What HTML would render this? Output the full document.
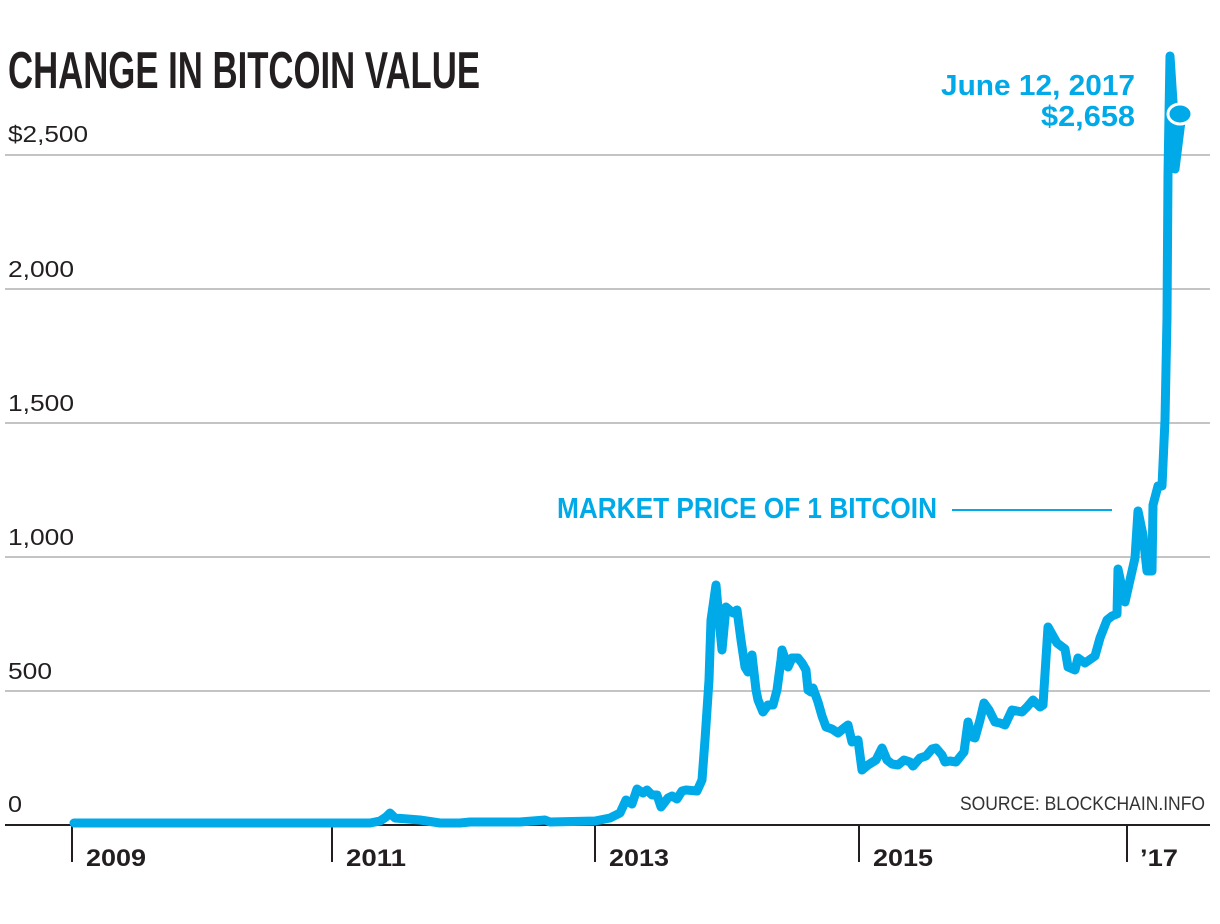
<!DOCTYPE html>
<html><head><meta charset="utf-8"><style>
html,body{margin:0;padding:0;background:#fff;}
svg{display:block;}
text{font-family:"Liberation Sans Narrow","Liberation Sans",sans-serif;}
</style></head><body>
<svg width="1220" height="924" viewBox="0 0 1220 924" xmlns="http://www.w3.org/2000/svg">
<rect width="1220" height="924" fill="#fff"/>
<text x="8" y="88" font-size="52" font-weight="bold" fill="#231f20" textLength="472" lengthAdjust="spacingAndGlyphs">CHANGE IN BITCOIN VALUE</text>
<g stroke="#c4c4c4" stroke-width="2">
<line x1="5" y1="155" x2="1210" y2="155"/>
<line x1="5" y1="289" x2="1210" y2="289"/>
<line x1="5" y1="423" x2="1210" y2="423"/>
<line x1="5" y1="557" x2="1210" y2="557"/>
<line x1="5" y1="691" x2="1210" y2="691"/>
</g>
<g font-size="23" fill="#231f20">
<text x="8" y="142" textLength="80" lengthAdjust="spacingAndGlyphs">$2,500</text>
<text x="8" y="277" textLength="66" lengthAdjust="spacingAndGlyphs">2,000</text>
<text x="8" y="411" textLength="66" lengthAdjust="spacingAndGlyphs">1,500</text>
<text x="8" y="545" textLength="66" lengthAdjust="spacingAndGlyphs">1,000</text>
<text x="8" y="679" textLength="44" lengthAdjust="spacingAndGlyphs">500</text>
<text x="8" y="812" textLength="14" lengthAdjust="spacingAndGlyphs">0</text>
</g>
<text x="960" y="810" font-size="19" fill="#333" textLength="245" lengthAdjust="spacingAndGlyphs">SOURCE: BLOCKCHAIN.INFO</text>
<line x1="5" y1="825" x2="1210" y2="825" stroke="#231f20" stroke-width="2"/>
<g stroke="#231f20" stroke-width="2">
<line x1="72" y1="825" x2="72" y2="862"/>
<line x1="332" y1="825" x2="332" y2="862"/>
<line x1="595" y1="825" x2="595" y2="862"/>
<line x1="859" y1="825" x2="859" y2="862"/>
<line x1="1127" y1="825" x2="1127" y2="862"/>
</g>
<g font-size="24" font-weight="bold" fill="#231f20">
<text x="86" y="866" textLength="60" lengthAdjust="spacingAndGlyphs">2009</text>
<text x="346" y="866" textLength="60" lengthAdjust="spacingAndGlyphs">2011</text>
<text x="609" y="866" textLength="60" lengthAdjust="spacingAndGlyphs">2013</text>
<text x="873" y="866" textLength="60" lengthAdjust="spacingAndGlyphs">2015</text>
<text x="1140" y="866" textLength="38" lengthAdjust="spacingAndGlyphs">’17</text>
</g>
<polyline fill="none" stroke="#00a9e8" stroke-width="9" stroke-linejoin="round" stroke-linecap="round" points="
74,823 370,823 380,821 386,817 390,813 395,818 420,820 440,823 460,823 470,822 520,822 545,820 550,822 595,821 610,818 620,813 626,800 632,804 637,789 643,793 647,790 652,795 657,795 661,807 668,798 672,796 677,799 682,791 686,790 697,791 702,780 705,740 709,680 711,620 716,585 719,620 722,650 726,607 733,613 737,610 741,640 745,667 748,672 752,655 756,690 758,700 763,712 768,705 773,705 777,690 781,660 782,650 788,667 792,658 798,658 802,663 806,670 808,690 811,692 813,688 818,702 822,716 826,727 832,729 838,733 844,728 848,725 852,742 858,740 862,770 868,765 876,760 882,748 887,760 892,764 898,765 904,760 910,762 913,766 920,758 926,756 932,749 936,748 942,755 945,762 950,761 956,762 960,757 964,752 968,722 972,737 975,738 980,720 984,703 989,710 995,722 1000,723 1005,725 1012,710 1022,712 1027,707 1033,700 1040,707 1043,705 1048,627 1057,643 1065,649 1068,667 1075,670 1078,658 1085,663 1095,656 1100,638 1107,620 1112,616 1117,614 1118,569 1125,602 1130,580 1135,558 1138,511 1143,535 1147,571 1152,571 1153,505 1158,486 1162,486 1165,420 1167,317 1168,174 1170,56 1173,102 1175,169 1180,129 1182,114"/>
<ellipse cx="1180" cy="114" rx="12" ry="10" fill="#00a9e8" stroke="#fff" stroke-width="3"/>
<g font-size="29" font-weight="bold" fill="#00a9e8" font-family="Liberation Sans, sans-serif">
<text x="1135" y="95" text-anchor="end" textLength="194" lengthAdjust="spacingAndGlyphs">June 12, 2017</text>
<text x="1135" y="126" text-anchor="end" textLength="94" lengthAdjust="spacingAndGlyphs">$2,658</text>
<text x="557" y="518" textLength="380" lengthAdjust="spacingAndGlyphs">MARKET PRICE OF 1 BITCOIN</text>
</g>
<line x1="952" y1="510" x2="1112" y2="510" stroke="#00a9e8" stroke-width="2"/>
</svg>
</body></html>
